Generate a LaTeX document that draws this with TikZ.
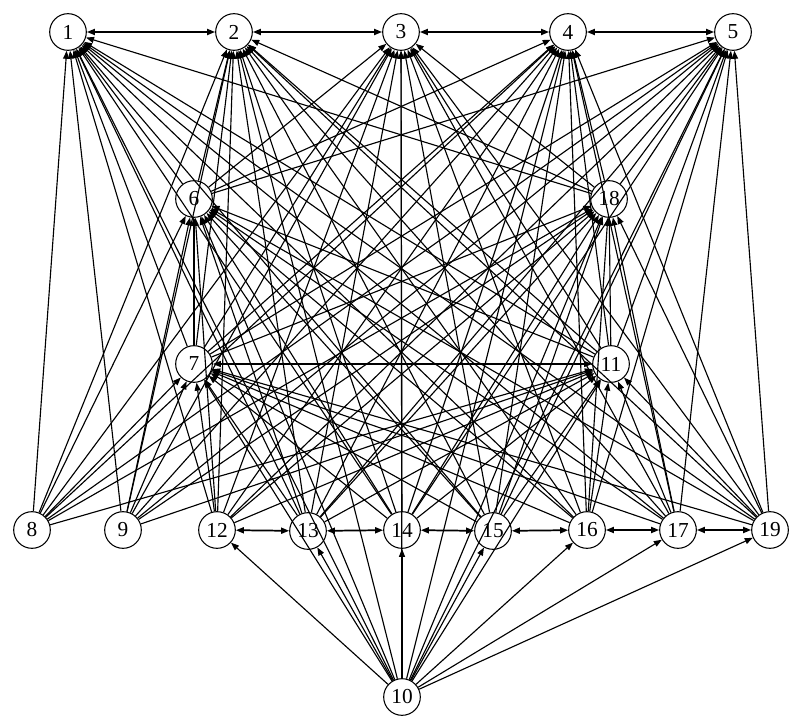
\documentclass[tikz,border=0pt]{standalone}
\usepackage{fontspec}
\setmainfont{Liberation Serif}
\usetikzlibrary{arrows.meta}
\begin{document}
\begin{tikzpicture}[x=0.75pt,y=-0.75pt,
  nd/.style={circle,draw,line width=0.8pt,minimum size=27.5pt,inner sep=0pt,font=\fontsize{16}{16}\selectfont},
  edge/.style={line width=0.85pt,-{Triangle[length=6pt,width=4.5pt]}},
  chain/.style={line width=1.3pt,{Triangle[length=6pt,width=4.5pt]}-{Triangle[length=6pt,width=4.5pt]}},
  midchain/.style={line width=1pt,{Triangle[length=6pt,width=4.5pt]}-{Triangle[length=6pt,width=4.5pt]}}]
\useasboundingbox (0,0) rectangle (803,727);
\node[nd] (n1) at (68,32) {1};
\node[nd] (n2) at (234,32) {2};
\node[nd] (n3) at (401,32) {3};
\node[nd] (n4) at (568,32) {4};
\node[nd] (n5) at (733,32) {5};
\node[nd] (n6) at (194,199) {6};
\node[nd] (n18) at (609,199) {18};
\node[nd] (n7) at (194,364) {7};
\node[nd] (n11) at (611,364) {11};
\node[nd] (n8) at (32,530) {8};
\node[nd] (n9) at (123,530) {9};
\node[nd] (n12) at (217,530) {12};
\node[nd] (n13) at (308,531) {13};
\node[nd] (n14) at (402,530) {14};
\node[nd] (n15) at (493,531) {15};
\node[nd] (n16) at (587,530) {16};
\node[nd] (n17) at (678,530) {17};
\node[nd] (n19) at (770,530) {19};
\node[nd] (n10) at (402,697) {10};
\foreach \s in {8,9,12,13,14,15,16,17,19,10}
  \foreach \t in {1,2,3,4,5,6,18,7,11}
    \draw[edge] (n\s) -- (n\t);
\foreach \s in {6,18,7,11}
  \foreach \t in {1,2,3,4,5}
    \draw[edge] (n\s) -- (n\t);
\foreach \s in {7,11}
  \foreach \t in {6,18}
    \draw[edge] (n\s) -- (n\t);
\foreach \t in {12,13,14,15,16,17,19}
  \draw[edge] (n10) -- (n\t);
\draw[chain] (n1) -- (n2);
\draw[chain] (n2) -- (n3);
\draw[chain] (n3) -- (n4);
\draw[chain] (n4) -- (n5);
\draw[midchain] (n7) -- (n11);
\draw[chain] (n12) -- (n13);
\draw[chain] (n13) -- (n14);
\draw[chain] (n14) -- (n15);
\draw[chain] (n15) -- (n16);
\draw[chain] (n16) -- (n17);
\draw[chain] (n17) -- (n19);
\end{tikzpicture}
\end{document}
